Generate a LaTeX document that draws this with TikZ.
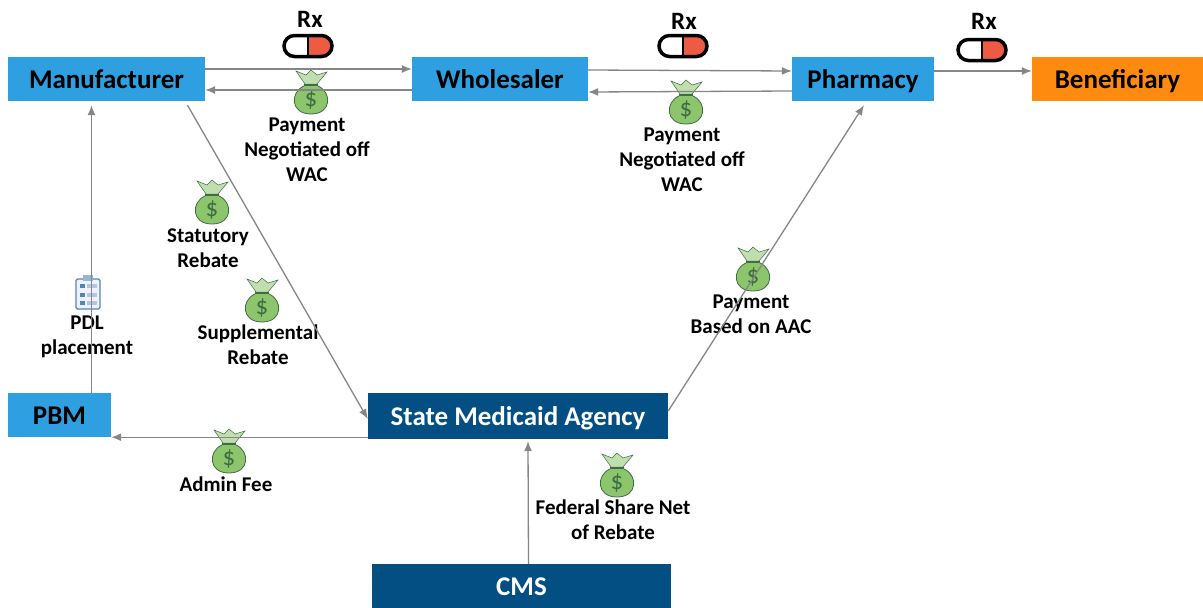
\documentclass[tikz,border=0pt]{standalone}
\usepackage{fontspec}
\setmainfont{Carlito}
\definecolor{lightbox}{HTML}{2E9FE0}
\definecolor{darkbox}{HTML}{034F84}
\definecolor{orangebox}{HTML}{FF8A10}
\definecolor{flowgray}{HTML}{868686}
\definecolor{baggreen}{HTML}{8CC56B}
\definecolor{bagdark}{HTML}{3F6B45}
\definecolor{pillred}{HTML}{EE5B43}
\definecolor{clipblue}{HTML}{4F86B8}
\tikzset{
  party/.style={minimum height=44pt,inner sep=0pt,text height=20pt,text depth=2pt,text=#1,font=\fontsize{27}{30}\selectfont\bfseries},
  lightparty/.style={party=black,fill=lightbox},
  darkparty/.style={party=white,fill=darkbox},
  orangeparty/.style={party=black,fill=orangebox},
  caption/.style={align=center,inner sep=0pt,font=\fontsize{21}{25}\selectfont\bfseries},
  rxmark/.style={inner sep=0pt,font=\fontsize{25}{25}\selectfont\bfseries},
  flow/.style={draw=flowgray,line width=1.3pt,-{Latex[length=10pt,width=8pt]}},
  pics/moneybag/.style={code={
    \fill[baggreen] (-7,-6) .. controls (-21,0) and (-21,22) .. (0,22) .. controls (21,22) and (21,0) .. (7,-6) -- cycle;
    \draw[bagdark,line width=0.8pt] (-7,-6) .. controls (-21,0) and (-21,22) .. (0,22) .. controls (21,22) and (21,0) .. (7,-6);
    \draw[bagdark,fill=baggreen!55!white,line width=0.5pt] (-6,-8) -- (-15,-21) -- (-5,-17) -- (0,-22) -- (6,-17) -- (16,-20) -- (6,-8) -- cycle;
    \draw[bagdark,line width=1.2pt] (-7,-7) -- (7,-7);
    \node[text=bagdark,inner sep=0pt,font=\fontsize{25}{25}\selectfont] (-bill) at (0,8) {\$};
  }},
  pics/pill/.style={code={
    \fill[pillred] (0,-10) -- (14,-10) arc[start angle=-90,end angle=90,radius=10] -- (0,10) -- cycle;
    \draw[black,line width=3.5pt,rounded corners=10.5pt] (-24,-10.5) rectangle (24,10.5);
    \draw[black,line width=2pt] (0,-10) -- (0,10);
  }},
  pics/clipboard/.style={code={
    \draw[clipblue,fill=blue!6,line width=1.2pt,rounded corners=1.5pt] (-12,-13) rectangle (12,17);
    \fill[clipblue!60!white] (-5,-17) rectangle (5,-11);
    \foreach \rowy in {-6,3,11}{
      \fill[clipblue] (-8,\rowy-2) rectangle (-3,\rowy+2);
      \fill[clipblue!45!white] (-1,\rowy-2) rectangle (9,\rowy+2);
    }
  }}
}
\usetikzlibrary{arrows.meta}
\begin{document}
\begin{tikzpicture}[x=1pt,y=-1pt]
\useasboundingbox (0,0) rectangle (1203,608);

% boxes
\node[lightparty,minimum width=197pt] (manufacturer) at (106.5,79) {Manufacturer};
\node[lightparty,minimum width=176pt] (wholesaler) at (500,79) {Wholesaler};
\node[lightparty,minimum width=142pt] (pharmacy) at (863,79) {Pharmacy};
\node[orangeparty,minimum width=171pt] (beneficiary) at (1117.5,79) {Beneficiary};
\node[lightparty,minimum width=103pt] (pbm) at (59.5,415) {PBM};
\node[darkparty,minimum width=300pt,minimum height=46pt] (state) at (518,416) {State Medicaid Agency};
\node[darkparty,minimum width=299pt] (cms) at (521.5,586) {CMS};

% money and pills
\pic (bagpaya) at (311,92) {moneybag};
\pic (bagpayb) at (686,102) {moneybag};
\pic (bagstat) at (212,202) {moneybag};
\pic (bagsupp) at (262,300) {moneybag};
\pic (bagaac) at (753,269) {moneybag};
\pic (bagadmin) at (229,451) {moneybag};
\pic (bagfed) at (617,475) {moneybag};
\pic (pilla) at (308,46) {pill};
\pic (pillb) at (683,46) {pill};
\pic (pillc) at (982,50) {pill};
\pic (pdlboard) at (88,292) {clipboard};

% labels
\node[rxmark] (rxa) at (310,19) {Rx};
\node[rxmark] (rxb) at (684,21) {Rx};
\node[rxmark] (rxc) at (984,21) {Rx};
\node[caption] (paya) at (307,150) {Payment\\Negotiated off\\WAC};
\node[caption] (payb) at (682,160) {Payment\\Negotiated off\\WAC};
\node[caption] (stat) at (208,248) {Statutory\\Rebate};
\node[caption] (supp) at (258,345) {Supplemental\\Rebate};
\node[caption] (pdl) at (87,337) {PDL\\placement};
\node[caption] (aac) at (751,314) {Payment\\Based on AAC};
\node[caption] (admin) at (226,484) {Admin Fee};
\node[caption] (fed) at (613,520) {Federal Share Net\\of Rebate};

% connectors
\draw[flow] ([yshift=10pt]manufacturer.east) -- ([yshift=10pt]wholesaler.west);
\draw[flow] ([yshift=-11pt]wholesaler.west) -- ([yshift=-11pt]manufacturer.east);
\draw[flow] ([yshift=9pt]wholesaler.east) -- ([yshift=8pt]pharmacy.west);
\draw[flow] ([yshift=-12pt]pharmacy.west) -- ([yshift=-13pt]wholesaler.east);
\draw[flow] ([yshift=8pt]pharmacy.east) -- ([yshift=8pt]beneficiary.west);
\draw[flow] ([xshift=81pt,yshift=-4pt]manufacturer.south) -- ([yshift=-3pt]state.west);
\draw[flow] ([xshift=32pt]pbm.north) -- ([xshift=-15pt,yshift=-4pt]manufacturer.south);
\draw[flow] ([yshift=2pt]state.south west) -- (pbm.south east);
\draw[flow] ([xshift=7pt]cms.north) -- ([xshift=10pt,yshift=-2pt]state.south);
\draw[flow] ([yshift=5pt]state.east) -- ([xshift=1pt,yshift=-4pt]pharmacy.south);

\end{tikzpicture}
\end{document}
